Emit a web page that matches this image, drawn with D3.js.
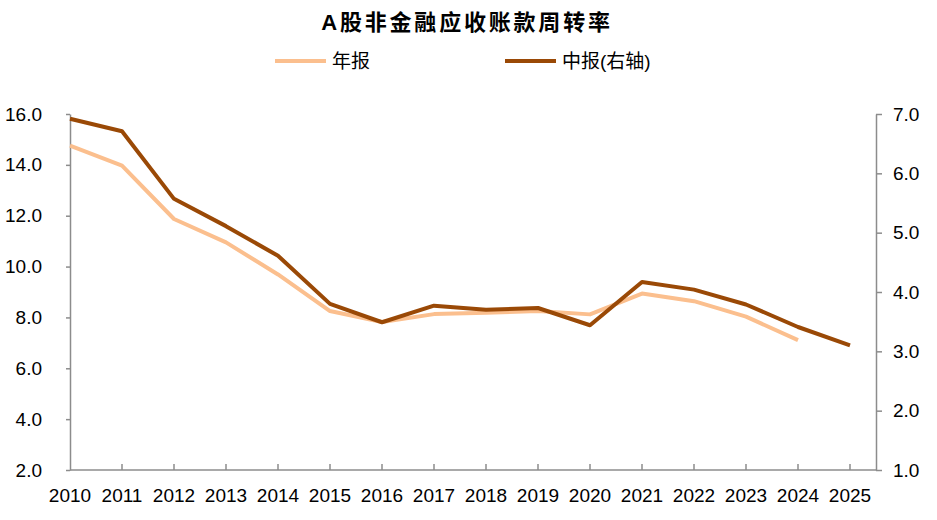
<!DOCTYPE html>
<html>
<head>
<meta charset="utf-8">
<script src="https://cdn.jsdelivr.net/npm/d3@7"></script>
<style>
  body { margin: 0; background: #fff; }
  text { font-family: "Liberation Sans", Arial, "Noto Sans CJK SC", sans-serif; fill: #000; }
</style>
</head>
<body>
<div id="chart"></div>
<script>
var years = ["2010","2011","2012","2013","2014","2015","2016","2017","2018","2019","2020","2021","2022","2023","2024","2025"];
// 年报 (left axis), no 2025 value
var annual = [14.76, 13.97, 11.87, 10.95, 9.69, 8.25, 7.82, 8.13, 8.18, 8.25, 8.12, 8.94, 8.64, 8.03, 7.11, null];
// 中报 (right axis)
var interim = [6.92, 6.71, 5.57, 5.11, 4.61, 3.80, 3.49, 3.77, 3.70, 3.73, 3.44, 4.17, 4.04, 3.79, 3.41, 3.10];
var leftTicks = [2, 4, 6, 8, 10, 12, 14, 16];
var rightTicks = [1, 2, 3, 4, 5, 6, 7];

var W = 937, H = 520;
var svg = d3.select("#chart").append("svg")
    .attr("width", W)
    .attr("height", H);

var mLeft = 70, mRight = 876, mTop = 114, mBottom = 470;

var x = d3.scalePoint()
    .domain(years)
    .range([mLeft, 850]);

var yL = d3.scaleLinear().domain([2, 16]).range([mBottom, mTop]);
var yR = d3.scaleLinear().domain([1, 7]).range([mBottom, mTop]);

var axisColor = "#8c8c8c";

// title
svg.append("text")
    .attr("x", 467)
    .attr("y", 30)
    .attr("text-anchor", "middle")
    .style("font-size", "22px")
    .style("font-weight", "bold")
    .style("letter-spacing", "2.8px")
    .text("A股非金融应收账款周转率");

// legend
var legend = [
  {name: "年报", color: "#fbbf8e", x: 275},
  {name: "中报(右轴)", color: "#9a4906", x: 505}
];
legend.forEach(function(l) {
  svg.append("line")
      .attr("x1", l.x).attr("x2", l.x + 51)
      .attr("y1", 61).attr("y2", 61)
      .attr("stroke", l.color)
      .attr("stroke-width", 4);
  svg.append("text")
      .attr("x", l.x + 57)
      .attr("y", 68)
      .style("font-size", "19px")
      .text(l.name);
});

// x axis
var xAxis = svg.append("g");
xAxis.append("line")
    .attr("x1", mLeft).attr("x2", mRight)
    .attr("y1", mBottom).attr("y2", mBottom)
    .attr("stroke", axisColor).attr("stroke-width", 1.5);
xAxis.selectAll(".xt")
    .data(years.slice(1))
    .enter().append("line")
    .attr("x1", function(d) { return x(d); })
    .attr("x2", function(d) { return x(d); })
    .attr("y1", mBottom).attr("y2", mBottom - 6)
    .attr("stroke", axisColor).attr("stroke-width", 1.5);
xAxis.selectAll(".xl")
    .data(years)
    .enter().append("text")
    .attr("x", function(d) { return x(d); })
    .attr("y", 502)
    .attr("text-anchor", "middle")
    .style("font-size", "19px")
    .text(function(d) { return d; });

// left axis
var gL = svg.append("g")
    .attr("transform", "translate(" + mLeft + ",0)")
    .call(d3.axisLeft(yL).tickValues(leftTicks).tickSizeInner(4).tickSizeOuter(0).tickPadding(24)
      .tickFormat(d3.format(".1f")));
gL.select(".domain").attr("stroke", axisColor).attr("stroke-width", 1.5);
gL.selectAll(".tick line").attr("stroke", axisColor).attr("stroke-width", 1.5);
gL.selectAll(".tick text").style("font-size", "19px").attr("fill", "#000");

// right axis
var gR = svg.append("g")
    .attr("transform", "translate(" + mRight + ",0)")
    .call(d3.axisRight(yR).tickValues(rightTicks).tickSizeInner(6).tickSizeOuter(0).tickPadding(11)
      .tickFormat(d3.format(".1f")));
gR.select(".domain").attr("stroke", axisColor).attr("stroke-width", 1.5);
gR.selectAll(".tick line").attr("stroke", axisColor).attr("stroke-width", 1.5);
gR.selectAll(".tick text").style("font-size", "19px").attr("fill", "#000");

// lines
var lineL = d3.line()
    .defined(function(d) { return d != null; })
    .x(function(d, i) { return x(years[i]); })
    .y(function(d) { return yL(d); });
var lineR = d3.line()
    .x(function(d, i) { return x(years[i]); })
    .y(function(d) { return yR(d); });

svg.append("path")
    .datum(annual)
    .attr("d", lineL)
    .attr("fill", "none")
    .attr("stroke", "#fbbf8e")
    .attr("stroke-width", 4)
    .attr("stroke-linejoin", "round");

svg.append("path")
    .datum(interim)
    .attr("d", lineR)
    .attr("fill", "none")
    .attr("stroke", "#9a4906")
    .attr("stroke-width", 4)
    .attr("stroke-linejoin", "round");
</script>
</body>
</html>
